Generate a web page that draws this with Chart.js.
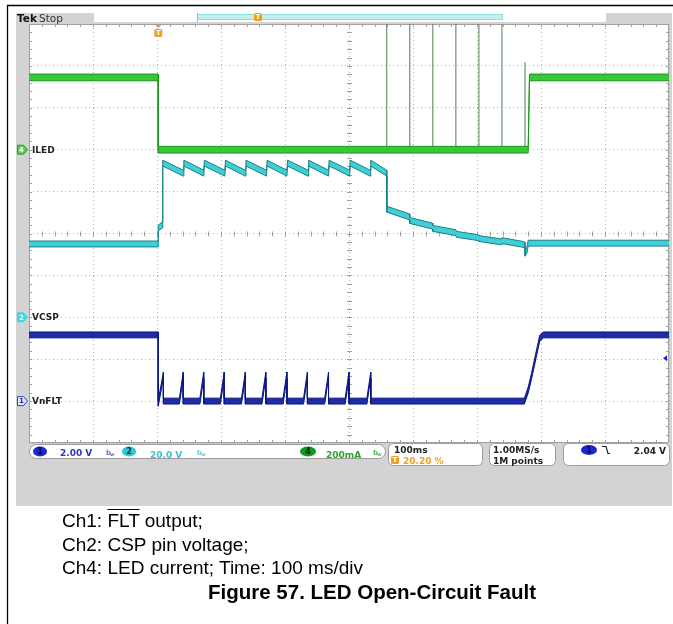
<!DOCTYPE html>
<html>
<head>
<meta charset="utf-8">
<script src="https://cdn.jsdelivr.net/npm/chart.js@4.4.1/dist/chart.umd.min.js"></script>
<style>
  body { margin: 0; background: #fff; }
  #wrap { position: relative; width: 673px; height: 624px; overflow: hidden; }
  canvas { position: absolute; left: 0; top: 0; }
  .cap { position: absolute; font-family: "Liberation Sans", Arial, sans-serif; font-size: 19px; line-height: 22px; color: #000; white-space: nowrap; }
  .bar { text-decoration: overline; }
  .fig { font-weight: bold; font-size: 20.5px; }
</style>
</head>
<body>
<div id="wrap">
  <canvas id="scope" width="673" height="624"></canvas>
  <div class="cap" style="left:62px; top:510px">Ch1: <span class="bar">FLT</span> output;</div>
  <div class="cap" style="left:62px; top:534px">Ch2: CSP pin voltage;</div>
  <div class="cap" style="left:62px; top:557px">Ch4: LED current; Time: 100 ms/div</div>
  <div class="cap fig" style="left:208px; top:581px">Figure 57. LED Open-Circuit Fault</div>
</div>
<script>
// Time in ms relative to the trigger (trigger at 20.20 % of a 1 s record)
const timeMin = -202;
const timeMax = 798;

// Ch1: nFLT output (V)
const ch1Time = [-202, 0, 0, 8, 8,
    33, 39, 39, 65, 71, 71, 97, 103, 103, 130, 136, 136, 162, 168, 168,
    195, 201, 201, 227, 233, 233, 260, 266, 266, 292, 298, 298, 326, 332, 332,
    572, 578, 583, 591, 596, 602, 798];
const ch1Volt = [3.16, 3.16, -0.1, 1.24, 0,
    0, 1.24, 0, 0, 1.24, 0, 0, 1.24, 0, 0, 1.24, 0, 0, 1.24, 0,
    0, 1.24, 0, 0, 1.24, 0, 0, 1.24, 0, 0, 1.24, 0, 0, 1.24, 0,
    0, 0.53, 1.16, 2.3, 3.0, 3.16, 3.16];

// Ch2: CSP pin voltage (V)
const ch2Time = [-202, 0, 0, 6, 7,
    39, 40, 71, 72, 104, 105, 136, 137, 169, 170, 201, 202, 234, 235, 266, 267, 299, 300, 331, 332, 357,
    357, 392, 393, 428, 429, 465, 466, 500, 501, 536, 537, 570, 573, 573, 576, 578, 798];
const ch2Volt = [35, 35, 42.6, 44, 73.6,
    68.8, 73.6, 68.8, 73.6, 68.8, 73.6, 68.8, 73.6, 68.8, 73.6, 68.8, 73.6, 68.8, 73.6, 68.8, 73.6, 68.8, 73.6, 68.8, 73.6, 68.8,
    51.6, 48, 46.2, 43.6, 42.4, 40.4, 39.6, 38, 37.6, 36, 36.6, 34.8, 34.4, 30.6, 32, 35.4, 35.4];

// Ch4: LED current (mA)
const ch4Time = [-202, 0, 0, 578, 580, 798];
const ch4Milliamp = [345, 345, 0, 0, 345, 345];

// Ch4 narrow current spikes while the string is open
const ch4SpikeTime = [357, 393, 429, 465, 501, 537, 573];
const ch4SpikePeak = [640, 640, 640, 640, 640, 640, 418];

// Readouts
const channelLabels = ['VnFLT', 'VCSP', 'ILED'];
const channelScales = ['2.00 V', '20.0 V', '200mA'];
const horizReadout = ['100ms', '20.20 %'];
const acqReadout = ['1.00MS/s', '1M points'];
const trigLevel = 2.04;
const trigReadout = '2.04 V';

// vertical setup: units per div and ground position (divs from bottom)
const ch1PerDiv = 2, ch1Ground = 1;
const ch2PerDiv = 20, ch2Ground = 3;
const ch4PerDiv = 200, ch4Ground = 7;

const C1 = '#1b2ea8', C2 = '#3fcfd4', C4 = '#36c936';

// trace drawn as a thin band between two edges
function band(times, values, half, axis, fillColor, edgeColor) {
    const upper = times.map((t, i) => ({ x: t, y: values[i] + half }));
    const lower = times.map((t, i) => ({ x: t, y: values[i] - half }));
    return [
        { data: upper, yAxisID: axis, borderColor: edgeColor, borderWidth: 1, fill: false },
        { data: lower, yAxisID: axis, borderColor: edgeColor, borderWidth: 1, fill: '-1', backgroundColor: fillColor }
    ];
}

const spikePoints = [];
ch4SpikeTime.forEach((t, i) => {
    spikePoints.push({ x: t, y: 0 }, { x: t, y: ch4SpikePeak[i] }, { x: t, y: null });
});

function oval(ctx, cx, cy, rx, ry, fill, stroke, label, textColor) {
    ctx.beginPath();
    ctx.ellipse(cx, cy, rx, ry, 0, 0, Math.PI * 2);
    ctx.fillStyle = fill;
    ctx.fill();
    if (stroke) { ctx.strokeStyle = stroke; ctx.lineWidth = 1; ctx.stroke(); }
    ctx.fillStyle = textColor;
    ctx.font = 'bold 8px "DejaVu Sans"';
    ctx.textAlign = 'center';
    ctx.textBaseline = 'middle';
    ctx.fillText(label, cx, cy + 0.5);
    ctx.textAlign = 'left';
}

function box(ctx, x, y, w, h, r) {
    ctx.beginPath();
    ctx.roundRect(x, y, w, h, r);
    ctx.fillStyle = '#ffffff';
    ctx.fill();
    ctx.strokeStyle = '#9c9c9c';
    ctx.lineWidth = 1;
    ctx.stroke();
}

function tMarker(ctx, x, y) {
    ctx.fillStyle = '#f0a020';
    ctx.beginPath();
    ctx.roundRect(x - 4, y, 8, 8, 1.5);
    ctx.fill();
    ctx.fillStyle = '#ffffff';
    ctx.font = 'bold 7px "DejaVu Sans"';
    ctx.textAlign = 'center';
    ctx.textBaseline = 'middle';
    ctx.fillText('T', x, y + 4.5);
    ctx.textAlign = 'left';
}

function bwIcon(ctx, x, y, color) {
    ctx.fillStyle = color;
    ctx.font = 'bold 7px "DejaVu Sans"';
    ctx.textBaseline = 'alphabetic';
    ctx.fillText('b', x, y);
    ctx.font = 'bold 5px "DejaVu Sans"';
    ctx.fillText('w', x + 4, y + 1);
}

const scopeChrome = {
    id: 'scopeChrome',
    beforeDraw(chart) {
        const ctx = chart.ctx;
        const a = chart.chartArea;
        ctx.save();
        ctx.fillStyle = '#ffffff';
        ctx.fillRect(0, 0, chart.width, chart.height);

        // page frame
        ctx.strokeStyle = '#000000';
        ctx.lineWidth = 1.3;
        ctx.beginPath();
        ctx.moveTo(7.5, 624);
        ctx.lineTo(7.5, 5.5);
        ctx.lineTo(673, 5.5);
        ctx.stroke();

        // scope screen
        ctx.fillStyle = '#d3d3d3';
        ctx.fillRect(16, 13, 656, 493);
        ctx.fillStyle = '#ffffff';
        ctx.fillRect(a.left, a.top, a.right - a.left, a.bottom - a.top);

        // top record bar
        ctx.fillStyle = '#ffffff';
        ctx.fillRect(94, 13, 512, 9);
        ctx.fillStyle = '#c4eff1';
        ctx.fillRect(197, 15, 306, 4);
        ctx.strokeStyle = '#8fdde0';
        ctx.lineWidth = 1;
        ctx.strokeRect(197.5, 14.5, 305, 5);
        ctx.strokeStyle = '#b0b0b0';
        ctx.beginPath();
        ctx.moveTo(197.5, 13); ctx.lineTo(197.5, 22);
        ctx.stroke();
        tMarker(ctx, 258, 13);

        ctx.fillStyle = '#111111';
        ctx.font = 'bold 10.5px "DejaVu Sans"';
        ctx.textBaseline = 'alphabetic';
        ctx.fillText('Tek', 17, 21.5);
        ctx.fillStyle = '#333333';
        ctx.font = '10.5px "DejaVu Sans"';
        ctx.fillText('Stop', 39, 21.5);

        // status readouts
        box(ctx, 29.5, 444.5, 356, 14, 7);
        oval(ctx, 40, 451.5, 7, 5, '#1a28d0', null, '1', '#0a0a50');
        ctx.font = 'bold 9px "DejaVu Sans"';
        ctx.textBaseline = 'alphabetic';
        ctx.fillStyle = '#2a36c8';
        ctx.fillText(channelScales[0], 60, 455.5);
        bwIcon(ctx, 106, 455, '#6a74c8');
        oval(ctx, 129, 451.5, 7, 5, '#2ec8d0', null, '2', '#0a3a40');
        ctx.font = 'bold 9px "DejaVu Sans"';
        ctx.fillStyle = '#3cc4cc';
        ctx.fillText(channelScales[1], 150, 455.5);
        bwIcon(ctx, 197, 455, '#6ad0d6');
        oval(ctx, 308, 451.5, 8, 5, '#109a1c', null, '4', '#002a00');
        ctx.font = 'bold 9px "DejaVu Sans"';
        ctx.fillStyle = '#2aa52a';
        ctx.fillText(channelScales[2], 326, 455.5);
        bwIcon(ctx, 373, 455, '#5ab85a');

        box(ctx, 388.5, 443.5, 94, 22, 5);
        ctx.font = 'bold 9px "DejaVu Sans"';
        ctx.fillStyle = '#222222';
        ctx.fillText(horizReadout[0], 394, 453);
        tMarker(ctx, 395, 456);
        ctx.font = 'bold 9px "DejaVu Sans"';
        ctx.textBaseline = 'alphabetic';
        ctx.fillStyle = '#f0a020';
        ctx.fillText(horizReadout[1], 403, 464);

        box(ctx, 489.5, 443.5, 66, 22, 5);
        ctx.fillStyle = '#222222';
        ctx.fillText(acqReadout[0], 493, 453);
        ctx.fillText(acqReadout[1], 493, 464);

        box(ctx, 563.5, 443.5, 106, 22, 5);
        oval(ctx, 589, 450, 8, 5, '#1a28d0', null, '1', '#0a0a50');
        ctx.strokeStyle = '#222222';
        ctx.lineWidth = 1.2;
        ctx.beginPath();
        ctx.moveTo(602, 446.5); ctx.lineTo(606, 446.5); ctx.lineTo(608, 453.5); ctx.lineTo(610, 453.5);
        ctx.stroke();
        ctx.font = 'bold 9px "DejaVu Sans"';
        ctx.fillStyle = '#222222';
        ctx.textAlign = 'right';
        ctx.textBaseline = 'alphabetic';
        ctx.fillText(trigReadout, 666, 454);
        ctx.textAlign = 'left';
        ctx.restore();
    },
    beforeDatasetsDraw(chart) {
        const ctx = chart.ctx;
        const a = chart.chartArea;
        const w = a.right - a.left, h = a.bottom - a.top;
        const xc = a.left + w / 2, yc = a.top + h / 2;
        ctx.save();
        ctx.strokeStyle = '#a0a0a0';
        ctx.lineWidth = 1;
        ctx.strokeRect(a.left + 0.5, a.top + 0.5, w - 1, h - 1);
        ctx.beginPath();
        for (let i = 1; i < 50; i++) {
            const x = Math.round(a.left + i * w / 50) + 0.5;
            const y = Math.round(a.top + i * h / 50) + 0.5;
            ctx.moveTo(x, yc - 2); ctx.lineTo(x, yc + 3);
            ctx.moveTo(xc - 2, y); ctx.lineTo(xc + 3, y);
            ctx.moveTo(x, a.top); ctx.lineTo(x, a.top + 3);
            ctx.moveTo(x, a.bottom); ctx.lineTo(x, a.bottom - 3);
            ctx.moveTo(a.left, y); ctx.lineTo(a.left + 3, y);
            ctx.moveTo(a.right, y); ctx.lineTo(a.right - 3, y);
        }
        ctx.stroke();
        ctx.restore();
    },
    afterDatasetsDraw(chart) {
        const ctx = chart.ctx;
        const a = chart.chartArea;
        const s = chart.scales;
        ctx.save();
        // trigger position
        const tx = s.x.getPixelForValue(0);
        ctx.fillStyle = '#f0a020';
        ctx.beginPath();
        ctx.moveTo(tx - 3, a.top + 1); ctx.lineTo(tx + 3, a.top + 1); ctx.lineTo(tx, a.top + 4);
        ctx.fill();
        tMarker(ctx, tx, a.top + 5);

        // trigger level arrow
        const ty = s.y1.getPixelForValue(trigLevel);
        ctx.fillStyle = '#1a28d0';
        ctx.beginPath();
        ctx.moveTo(a.right - 6, ty); ctx.lineTo(a.right - 2, ty - 3); ctx.lineTo(a.right - 2, ty + 3);
        ctx.fill();

        // channel ground markers and labels
        const marks = [
            { y: s.y1.getPixelForValue(0), fill: '#e4e4f8', edge: '#3040c0', txt: '#2030b0', n: '1', label: channelLabels[0] },
            { y: s.y2.getPixelForValue(0), fill: '#48d4dc', edge: '#48d4dc', txt: '#ffffff', n: '2', label: channelLabels[1] },
            { y: s.y4.getPixelForValue(0), fill: '#5ccc5c', edge: '#2a9a2a', txt: '#ffffff', n: '4', label: channelLabels[2] }
        ];
        marks.forEach(m => {
            ctx.beginPath();
            ctx.moveTo(17.5, m.y - 4.5); ctx.lineTo(23.5, m.y - 4.5); ctx.lineTo(27.5, m.y);
            ctx.lineTo(23.5, m.y + 4.5); ctx.lineTo(17.5, m.y + 4.5); ctx.closePath();
            ctx.fillStyle = m.fill;
            ctx.fill();
            ctx.strokeStyle = m.edge;
            ctx.lineWidth = 1;
            ctx.stroke();
            ctx.fillStyle = m.txt;
            ctx.font = 'bold 7px "DejaVu Sans"';
            ctx.textAlign = 'center';
            ctx.textBaseline = 'middle';
            ctx.fillText(m.n, 21.5, m.y + 0.5);
            ctx.textAlign = 'left';
            ctx.fillStyle = '#222222';
            ctx.font = 'bold 9px "DejaVu Sans"';
            ctx.fillText(m.label, 32, m.y + 0.5);
        });
        ctx.restore();
    }
};

const datasets = [
    ...band(ch1Time, ch1Volt, 0.14, 'y1', C1, '#0b1680'),
    ...band(ch2Time, ch2Volt, 1.4, 'y2', C2, '#17808a'),
    ...band(ch4Time, ch4Milliamp, 16, 'y4', C4, '#1e961e'),
    { data: spikePoints, yAxisID: 'y4', borderColor: '#4f7f4f', borderWidth: 1, fill: false, spanGaps: false }
];

const hiddenAxis = (min, max) => ({ type: 'linear', display: false, min: min, max: max });

new Chart(document.getElementById('scope'), {
    type: 'line',
    data: { datasets: datasets },
    options: {
        responsive: false,
        animation: false,
        events: [],
        layout: { padding: { left: 29, right: 4, top: 24, bottom: 181 } },
        elements: { point: { radius: 0 }, line: { tension: 0 } },
        plugins: { legend: { display: false }, tooltip: { enabled: false } },
        scales: {
            x: {
                type: 'linear',
                min: timeMin,
                max: timeMax,
                afterBuildTicks: scale => {
                    scale.ticks = [];
                    for (let i = 0; i <= 10; i++) scale.ticks.push({ value: timeMin + i * 100 });
                },
                ticks: { display: false },
                grid: { color: '#b4b4b4', drawTicks: false },
                border: { display: false, dash: [1, 3] }
            },
            y1: {
                type: 'linear',
                position: 'left',
                min: -ch1Ground * ch1PerDiv,
                max: (10 - ch1Ground) * ch1PerDiv,
                ticks: { display: false, stepSize: ch1PerDiv },
                grid: { color: '#b4b4b4', drawTicks: false },
                border: { display: false, dash: [1, 3] }
            },
            y2: hiddenAxis(-ch2Ground * ch2PerDiv, (10 - ch2Ground) * ch2PerDiv),
            y4: hiddenAxis(-ch4Ground * ch4PerDiv, (10 - ch4Ground) * ch4PerDiv)
        }
    },
    plugins: [scopeChrome]
});
</script>
</body>
</html>
